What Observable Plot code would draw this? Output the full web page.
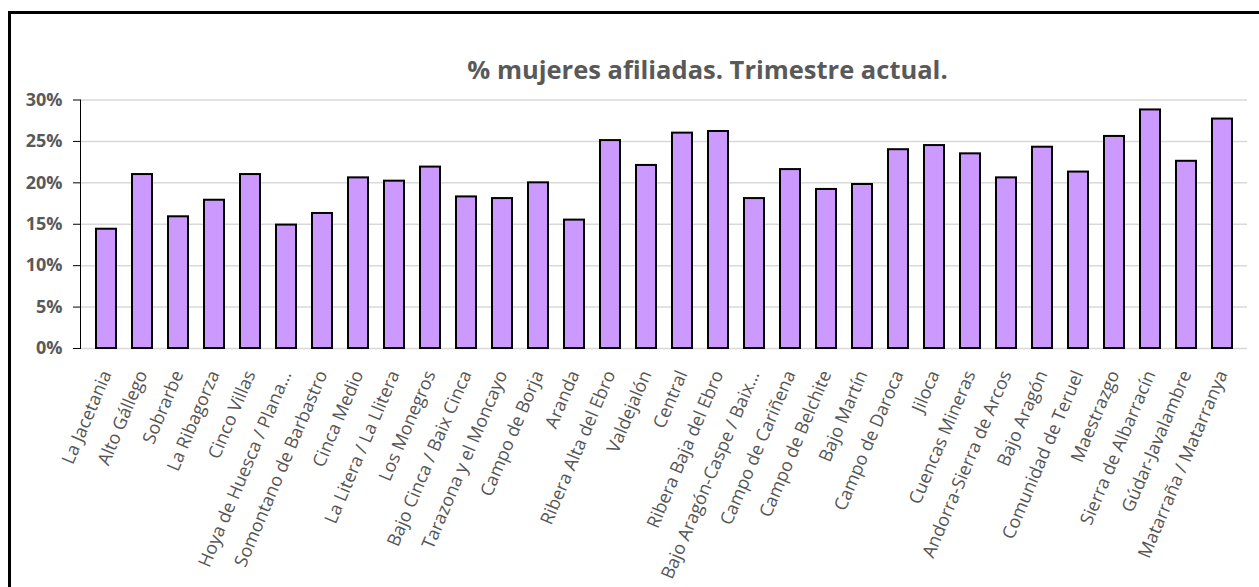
<!DOCTYPE html>
<html><head><meta charset="utf-8">
<script src="https://cdn.jsdelivr.net/npm/d3@7"></script>
<script src="https://cdn.jsdelivr.net/npm/@observablehq/plot@0.6"></script>
<style>
html,body{margin:0;padding:0;background:#fff;overflow:hidden;}
#wrap{position:relative;width:1259px;height:587px;overflow:hidden;}
#frame{position:absolute;left:8px;top:11px;width:1400px;height:800px;border:3px solid #000;box-sizing:border-box;z-index:3;pointer-events:none;}
#title{position:absolute;left:0;width:1415px;top:57px;line-height:1;text-align:center;font-family:"Open Sans";font-weight:bold;font-size:25.5px;color:#595959;z-index:2;white-space:nowrap;}
#chart{position:absolute;left:0;top:0;}
</style></head><body>
<div id="wrap"><div id="frame"></div><div id="title">% mujeres afiliadas. Trimestre actual.</div><div id="chart"></div></div>
<script>
const comarcas = ["La Jacetania","Alto Gállego","Sobrarbe","La Ribagorza","Cinco Villas","Hoya de Huesca / Plana…","Somontano de Barbastro","Cinca Medio","La Litera / La Llitera","Los Monegros","Bajo Cinca / Baix Cinca","Tarazona y el Moncayo","Campo de Borja","Aranda","Ribera Alta del Ebro","Valdejalón","Central","Ribera Baja del Ebro","Bajo Aragón-Caspe / Baix…","Campo de Cariñena","Campo de Belchite","Bajo Martín","Campo de Daroca","Jiloca","Cuencas Mineras","Andorra-Sierra de Arcos","Bajo Aragón","Comunidad de Teruel","Maestrazgo","Sierra de Albarracín","Gúdar-Javalambre","Matarraña / Matarranya"];
const valores = [14.4,21.0,15.9,17.9,21.0,14.9,16.3,20.6,20.2,21.9,18.3,18.1,20.0,15.5,25.1,22.1,26.0,26.2,18.1,21.6,19.2,19.8,24.0,24.5,23.5,20.6,24.3,21.3,25.6,28.8,22.6,27.7];
const yTicks = [0,5,10,15,20,25,30];

const data = comarcas.map((c,i)=>({comarca:c, valor:valores[i]}));
const chart = Plot.plot({
  width:1259, height:587,
  marginLeft:80, marginRight:12, marginTop:99.5, marginBottom:239,
  style:{background:"transparent", fontFamily:"Open Sans"},
  x:{domain:comarcas, paddingInner:0.45, paddingOuter:0.25, label:null},
  y:{domain:[0,30], label:null},
  marks:[
    Plot.gridY(yTicks,{stroke:"#d9d9d9", strokeOpacity:1, strokeWidth:1.5}),
    Plot.barY(data,{x:"comarca", y:"valor", fill:"#cc99ff", stroke:"#000", strokeWidth:2}),
    Plot.frame({anchor:"left", stroke:"#000", strokeWidth:1}),
    Plot.axisY(yTicks,{tickSize:7, tickPadding:11, tickFormat:d=>d+"%", fontSize:18, fontWeight:"bold", fill:"#595959", stroke:"#000", label:null}),
    Plot.axisX({tickSize:0, tickPadding:23, tickRotate:-67, fontSize:18, fill:"#555555", fontWeight:500, label:null})
  ]
});
document.getElementById("chart").appendChild(chart);
</script>
</body></html>
